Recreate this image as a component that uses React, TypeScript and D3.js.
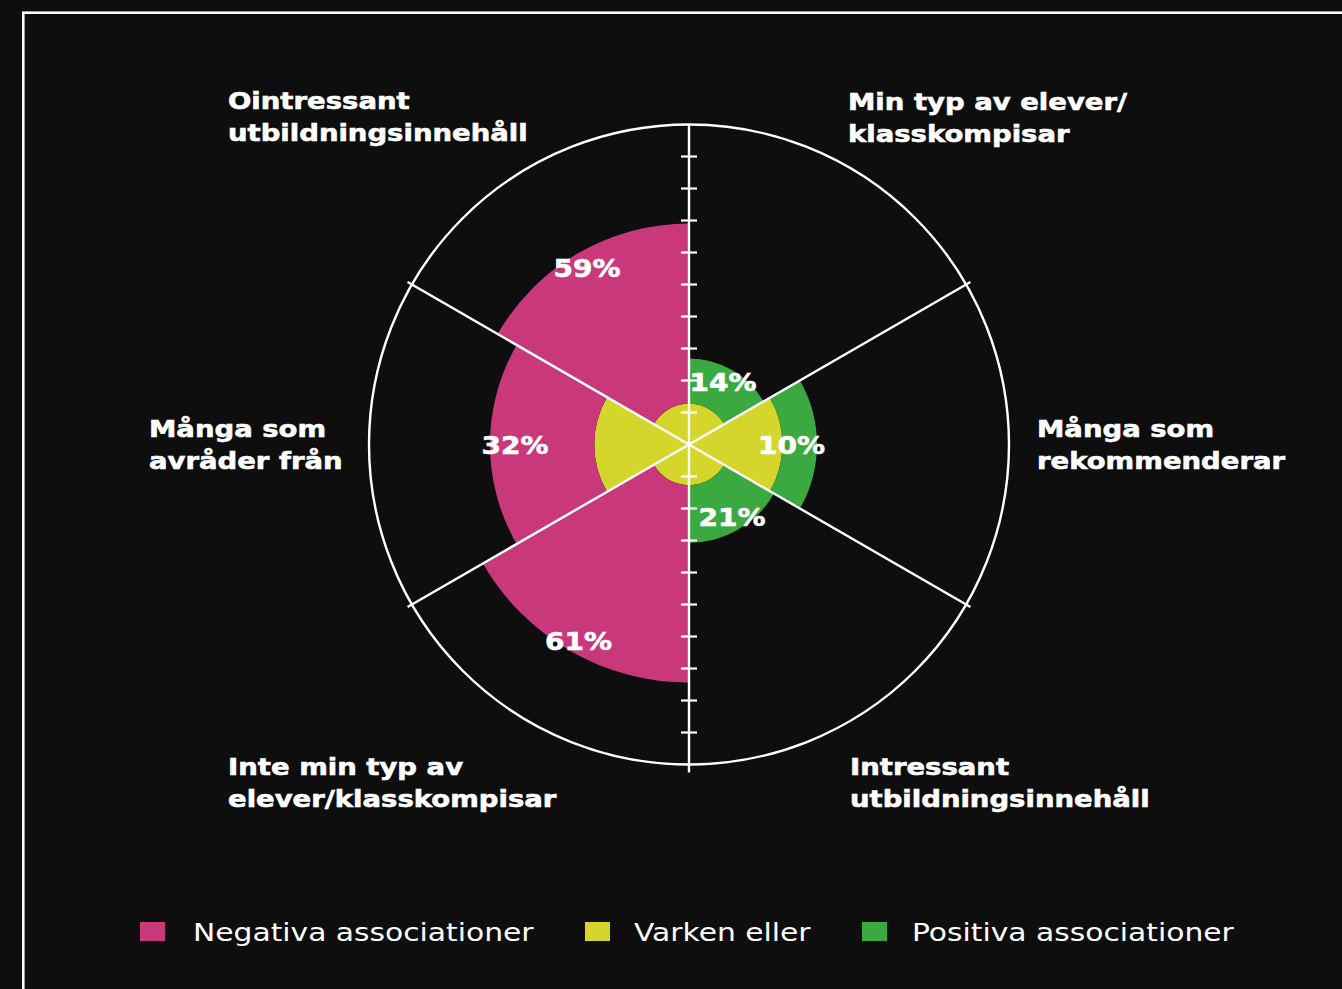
import React, { useEffect } from "react";
import * as d3 from "d3";

// ---------- data ----------
const categories = [
  "Min typ av elever/klasskompisar",
  "Många som rekommenderar",
  "Intressant utbildningsinnehåll",
  "Inte min typ av elever/klasskompisar",
  "Många som avråder från",
  "Ointressant utbildningsinnehåll",
];
const categoryLines = [
  ["Min typ av elever/", "klasskompisar"],
  ["Många som", "rekommenderar"],
  ["Intressant", "utbildningsinnehåll"],
  ["Inte min typ av", "elever/klasskompisar"],
  ["Många som", "avråder från"],
  ["Ointressant", "utbildningsinnehåll"],
];
const sentiment = ["pos", "pos", "pos", "neg", "neg", "neg"];
// "Varken eller" extent (percent of axis)
const varkenValues = [12.7, 29.2, 12.7, 12.7, 29.6, 12.7];
// stacked outer extent of the coloured band (percent of axis)
const stackTotals = [26.9, 40, 30.7, 74.4, 62.2, 69.1];
// printed shares
const shareValues = [14, 10, 21, 61, 32, 59];
const axisTicks = [10, 20, 30, 40, 50, 60, 70, 80, 90];
const legendItems = ["Negativa associationer", "Varken eller", "Positiva associationer"];

// ---------- layout / style ----------
const W = 1342;
const H = 989;
const CX = 689;
const CY = 444.5;
const R = 320;
const BG = "#0e0e0e";
const PINK = "#c8387a";
const YELLOW = "#d4d62c";
const GREEN = "#3aaa40";
const FONT = "'DejaVu Sans', sans-serif";
const SX = 1.13; // horizontal stretch to mimic an extended typeface

// text anchors of category labels relative to the centre (left x, first-line centre y)
const categoryAnchors = [
  [159, -343],
  [348, -16],
  [161, 322],
  [-461, 322],
  [-540, -16],
  [-461, -344],
];
// share labels: polar (deg clockwise from top, radius px)
const shareAnchors = [
  [28.6, 71],
  [90, 102.5],
  [149.5, 84.7],
  [209.4, 225],
  [270, 174],
  [330, 204],
];
const legendX = [140, 585, 862];
const legendTextX = [193, 634, 912];
const legendY = 932;

const Stretched = ({ x, y, children, size, weight, anchor = "start", sx = SX, heavy = 0 }: any) => (
  <text
    transform={`translate(${x},${y}) scale(${sx},1)`}
    fontFamily={FONT}
    fontSize={size}
    fontWeight={weight}
    fill="#ffffff"
    stroke={heavy ? "#ffffff" : "none"}
    strokeWidth={heavy}
    textAnchor={anchor}
  >
    {children}
  </text>
);

export default function App() {
  useEffect(() => {
    document.body.style.margin = "0";
    document.body.style.background = BG;
  }, []);

  const r = d3.scaleLinear().domain([0, 100]).range([0, R]);
  const sector = (2 * Math.PI) / categories.length;
  const arc = d3.arc<any>();

  const polar = (deg: number, rad: number) => {
    const a = (deg * Math.PI) / 180;
    return [CX + rad * Math.sin(a), CY - rad * Math.cos(a)];
  };

  return (
    <svg width={W} height={H} style={{ position: "absolute", left: 0, top: 0, display: "block" }}>
      <rect x={0} y={0} width={W} height={H} fill={BG} />
      <rect x={23.3} y={12.7} width={W + 50} height={H + 50} fill="none" stroke="#ffffff" strokeWidth={2.6} />

      <g transform={`translate(${CX},${CY})`}>
        {categories.map((c, i) => (
          <path
            key={"y" + i}
            fill={YELLOW}
            d={arc({
              innerRadius: 0,
              outerRadius: r(varkenValues[i]),
              startAngle: i * sector,
              endAngle: (i + 1) * sector,
            }) as string}
          />
        ))}
        {categories.map((c, i) => (
          <path
            key={"s" + i}
            fill={sentiment[i] === "pos" ? GREEN : PINK}
            d={arc({
              innerRadius: r(varkenValues[i]),
              outerRadius: r(stackTotals[i]),
              startAngle: i * sector,
              endAngle: (i + 1) * sector,
            }) as string}
          />
        ))}
        <circle r={R} fill="none" stroke="#ffffff" strokeWidth={2.4} />
        {[60, 120, 240, 300].map((deg) => {
          const a = (deg * Math.PI) / 180;
          return (
            <line
              key={deg}
              x1={0}
              y1={0}
              x2={325 * Math.sin(a)}
              y2={-325 * Math.cos(a)}
              stroke="#ffffff"
              strokeWidth={2.4}
            />
          );
        })}
        <line x1={0} y1={-320} x2={0} y2={328} stroke="#ffffff" strokeWidth={2.4} />
        {axisTicks.map((t) => (
          <g key={t}>
            <line x1={-8} x2={8} y1={-r(t)} y2={-r(t)} stroke="#ffffff" strokeWidth={2.2} />
            <line x1={-8} x2={8} y1={r(t)} y2={r(t)} stroke="#ffffff" strokeWidth={2.2} />
          </g>
        ))}
      </g>

      {shareValues.map((v, i) => {
        const [x, y] = polar(shareAnchors[i][0], shareAnchors[i][1]);
        return (
          <Stretched key={"p" + i} x={x} y={y + 9} size={25} weight={700} anchor="middle" sx={1.12} heavy={0.6}>
            {`${v}%`}
          </Stretched>
        );
      })}

      {categoryLines.map((lines, i) =>
        lines.map((ln, j) => (
          <Stretched
            key={`c${i}-${j}`}
            x={CX + categoryAnchors[i][0]}
            y={CY + categoryAnchors[i][1] + 8.5 + j * 31.5}
            size={23.5}
            weight={700}
            sx={1.17}
            heavy={0.6}
          >
            {ln}
          </Stretched>
        ))
      )}

      {legendItems.map((name, i) => (
        <g key={name}>
          <rect
            x={legendX[i]}
            y={legendY - 10}
            width={25}
            height={19}
            fill={[PINK, YELLOW, GREEN][i]}
          />
          <Stretched x={legendTextX[i]} y={legendY + 9} size={25} weight={400} sx={1.19}>
            {name}
          </Stretched>
        </g>
      ))}
    </svg>
  );
}
